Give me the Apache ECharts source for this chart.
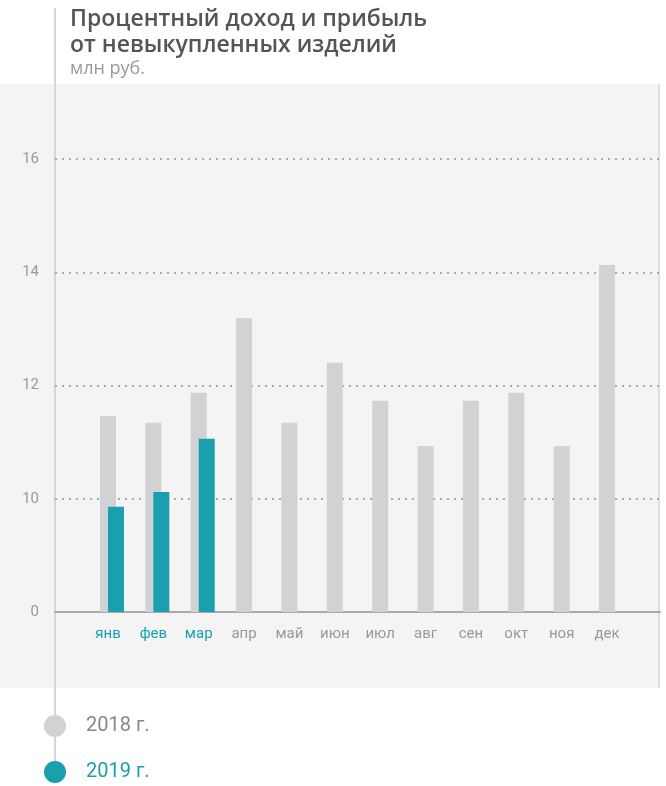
<!DOCTYPE html>
<html>
<head>
<meta charset="utf-8">
<script src="https://cdn.jsdelivr.net/npm/echarts@6/dist/echarts.min.js"></script>
<style>
html,body{margin:0;padding:0;background:#fff;}
#c{width:666px;height:786px;}
</style>
</head>
<body>
<div id="c"></div>
<script>
const months = ['янв','фев','мар','апр','май','июн','июл','авг','сен','окт','ноя','дек'];
const values2018 = [11.46, 11.34, 11.87, 13.19, 11.34, 12.40, 11.73, 10.93, 11.73, 11.87, 10.93, 14.13];
const values2019 = [9.86, 10.12, 11.06, null, null, null, null, null, null, null, null, null];
const yTicks = [8, 10, 12, 14, 16];
const yTickLabels = ['0', '10', '12', '14', '16'];

const GRAY = '#d1d2d4';
const TEAL = '#1a9fae';
const FONT = 'Roboto';
const TFONT = 'Open Sans';

const chart = echarts.init(document.getElementById('c'), null, {renderer: 'canvas'});
chart.setOption({
  backgroundColor: '#fff',
  animation: false,
  textStyle: {fontFamily: FONT},
  graphic: [
    {type: 'rect', z: -10, shape: {x: 0, y: 84, width: 660, height: 604}, style: {fill: '#f4f4f4'}},
    {type: 'line', z: -9, shape: {x1: 659, y1: 84, x2: 659, y2: 688}, style: {stroke: '#dedede', lineWidth: 2}},
    {type: 'line', z: -5, shape: {x1: 55, y1: 8, x2: 55, y2: 772}, style: {stroke: '#d6d6d6', lineWidth: 2}}
  ],
  title: {
    left: 70, top: 6, padding: 0,
    text: 'Процентный доход и прибыль\nот невыкупленных изделий',
    subtext: 'млн руб.',
    itemGap: 0,
    textStyle: {fontFamily: TFONT, fontSize: 23, lineHeight: 26, fontWeight: 600, color: '#555'},
    subtextStyle: {fontFamily: TFONT, fontSize: 18, lineHeight: 21, color: '#999'}
  },
  legend: {
    orient: 'vertical', left: 44, top: 715, padding: 0,
    icon: 'circle', itemWidth: 22, itemHeight: 22, itemGap: 24,
    textStyle: {fontFamily: FONT, fontSize: 20, padding: [0, 0, 0, 15]},
    data: [
      {name: '2018 г.', textStyle: {color: '#888'}},
      {name: '2019 г.', textStyle: {color: TEAL}}
    ]
  },
  grid: [
    {left: 55, right: 6, top: 159, bottom: 174},
    {left: 89.3, right: 32.3, top: 159, bottom: 174}
  ],
  xAxis: [
    {gridIndex: 0, type: 'value', min: 0, max: 1,
     axisLine: {show: true, lineStyle: {color: '#aaa', width: 2}},
     axisTick: {show: false}, axisLabel: {show: false}, splitLine: {show: false}},
    {gridIndex: 1, type: 'category', data: months,
     axisLine: {show: false}, axisTick: {show: false},
     axisLabel: {
       margin: 15, fontSize: 15, fontFamily: FONT, padding: [0, 8, 0, 0],
       color: function (v, i) { return values2019[i] != null ? TEAL : '#999'; }
     }}
  ],
  yAxis: [
    {gridIndex: 0, type: 'value', min: 8, max: 16, interval: 2,
     axisLine: {show: false}, axisTick: {show: false},
     axisLabel: {margin: 16, fontSize: 15, color: '#999', fontFamily: FONT,
       formatter: function (v) { const i = yTicks.indexOf(v); return i >= 0 ? yTickLabels[i] : ''; }},
     splitLine: {show: true, lineStyle: {color: '#aaa', width: 2, type: [2, 5]}}},
    {gridIndex: 1, type: 'value', min: 8, max: 16, interval: 2, show: false}
  ],
  series: [
    {name: '2018 г.', type: 'bar', xAxisIndex: 1, yAxisIndex: 1, data: values2018,
     barWidth: 16, barGap: '-50%', itemStyle: {color: GRAY}},
    {name: '2019 г.', type: 'bar', xAxisIndex: 1, yAxisIndex: 1, data: values2019,
     barWidth: 16, itemStyle: {color: TEAL}}
  ]
});
</script>
</body>
</html>
